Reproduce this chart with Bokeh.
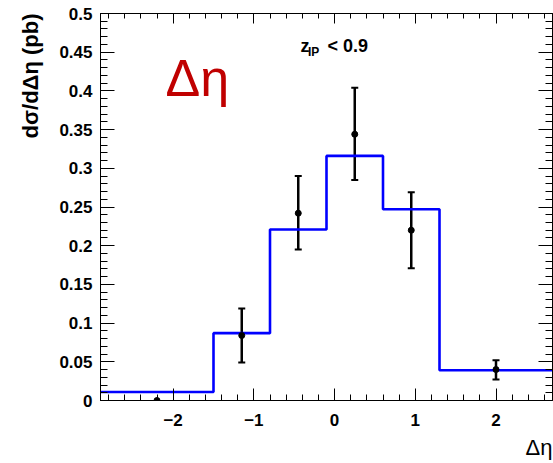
import math
from bokeh.plotting import figure
from bokeh.models import (Range1d, LinearAxis, SingleIntervalTicker, CustomJSTickFormatter,
                          Label, Title, ColumnDataSource, Whisker, TeeHead)
from bokeh.embed import file_html
from bokeh.resources import INLINE

# ---- data ----
bin_edges = [-2.9, -1.5, -0.8, -0.1, 0.6, 1.3, 2.7]
mc_values = [0.011, 0.087, 0.221, 0.316, 0.247, 0.039]
data_x = [-2.2, -1.15, -0.45, 0.25, 0.95, 2.0]
data_y = [0.0, 0.084, 0.242, 0.344, 0.220, 0.040]
data_hi = [0.0, 0.119, 0.290, 0.404, 0.269, 0.052]
data_lo = [0.0, 0.049, 0.195, 0.285, 0.171, 0.027]
x_label = "Δη"
y_label = "dσ/dΔη (pb)"

FONT = "Liberation Sans"

p = figure(frame_width=452, frame_height=387,
           min_border_left=100, min_border_right=1, min_border_top=13, min_border_bottom=63,
           x_range=Range1d(bin_edges[0], bin_edges[-1]), y_range=Range1d(0, 0.5),
           output_backend="svg", toolbar_location=None,
           background_fill_color="white", border_fill_color="white")
p.xgrid.visible = False
p.ygrid.visible = False
p.outline_line_color = "black"
p.outline_line_width = 1

fmt_code = """
let s = tick.toFixed(2).replace(/0+$/, '').replace(/\\.$/, '');
if (s == '-0') { s = '0'; }
return s.replace('-', '\\u2212');
"""

def style_axis(ax, major_in, minor_in, labels=True, standoff=8):
    ax.major_tick_in = major_in
    ax.major_tick_out = 0
    ax.minor_tick_in = minor_in
    ax.minor_tick_out = 0
    ax.axis_line_color = "black"
    ax.major_tick_line_color = "black"
    ax.minor_tick_line_color = "black"
    if labels:
        ax.formatter = CustomJSTickFormatter(code=fmt_code)
        ax.major_label_text_font = FONT
        ax.major_label_text_font_style = "bold"
        ax.major_label_text_font_size = "17px"
        ax.major_label_text_color = "black"
        ax.major_label_standoff = standoff
    else:
        ax.formatter = CustomJSTickFormatter(code="return '';")
        ax.major_label_standoff = 0

p.xaxis.ticker = SingleIntervalTicker(interval=1, num_minor_ticks=5)
p.yaxis.ticker = SingleIntervalTicker(interval=0.05, num_minor_ticks=5)
style_axis(p.xaxis[0], 12, 6, True, 13)
style_axis(p.yaxis[0], 14, 7, True, 8)

top = LinearAxis(ticker=SingleIntervalTicker(interval=1, num_minor_ticks=5))
style_axis(top, 10, 5, False)
p.add_layout(top, "above")
right = LinearAxis(ticker=SingleIntervalTicker(interval=0.05, num_minor_ticks=5))
style_axis(right, 14, 7, False)
p.add_layout(right, "right")

# axis titles (ROOT style: aligned to the axis end)
p.add_layout(Title(text=y_label, align="right", text_font=FONT, text_font_size="22px",
                   text_font_style="bold", text_color="black", standoff=28), "left")
p.add_layout(Title(text=x_label, align="right", text_font=FONT, text_font_size="22px",
                   text_font_style="normal", text_color="black", standoff=9), "below")

# MC histogram
p.step(x=bin_edges, y=mc_values + [mc_values[-1]], mode="after",
       line_color="#0000ff", line_width=2.6)

# data points with error bars
ex = [x for x, h, l in zip(data_x, data_hi, data_lo) if h != l]
eh = [h for x, h, l in zip(data_x, data_hi, data_lo) if h != l]
el = [l for x, h, l in zip(data_x, data_hi, data_lo) if h != l]
src = ColumnDataSource(dict(x=ex, upper=eh, lower=el))
w = Whisker(base="x", upper="upper", lower="lower", source=src,
            line_color="black", line_width=2.5,
            upper_head=TeeHead(size=7, line_width=2, line_color="black"),
            lower_head=TeeHead(size=7, line_width=2, line_color="black"))
p.add_layout(w)
p.scatter(data_x, data_y, size=6, color="black")

# texts inside the frame
p.add_layout(Label(x=65, y=323, x_units="screen", y_units="screen", text="Δη",
                   text_font=FONT, text_font_size="52px", text_color="#c00000",
                   text_baseline="alphabetic"))
p.add_layout(Label(x=200, y=355, x_units="screen", y_units="screen", text="z",
                   text_font=FONT, text_font_size="18px", text_font_style="bold",
                   text_color="black", text_baseline="alphabetic"))
p.add_layout(Label(x=207.5, y=349, x_units="screen", y_units="screen", text="IP",
                   text_font=FONT, text_font_size="12px", text_font_style="bold",
                   text_color="black", text_baseline="alphabetic"))
p.add_layout(Label(x=227, y=355, x_units="screen", y_units="screen", text="< 0.9",
                   text_font=FONT, text_font_size="18px", text_font_style="bold",
                   text_color="black", text_baseline="alphabetic"))

open("out.html", "w").write(file_html(p, INLINE))
